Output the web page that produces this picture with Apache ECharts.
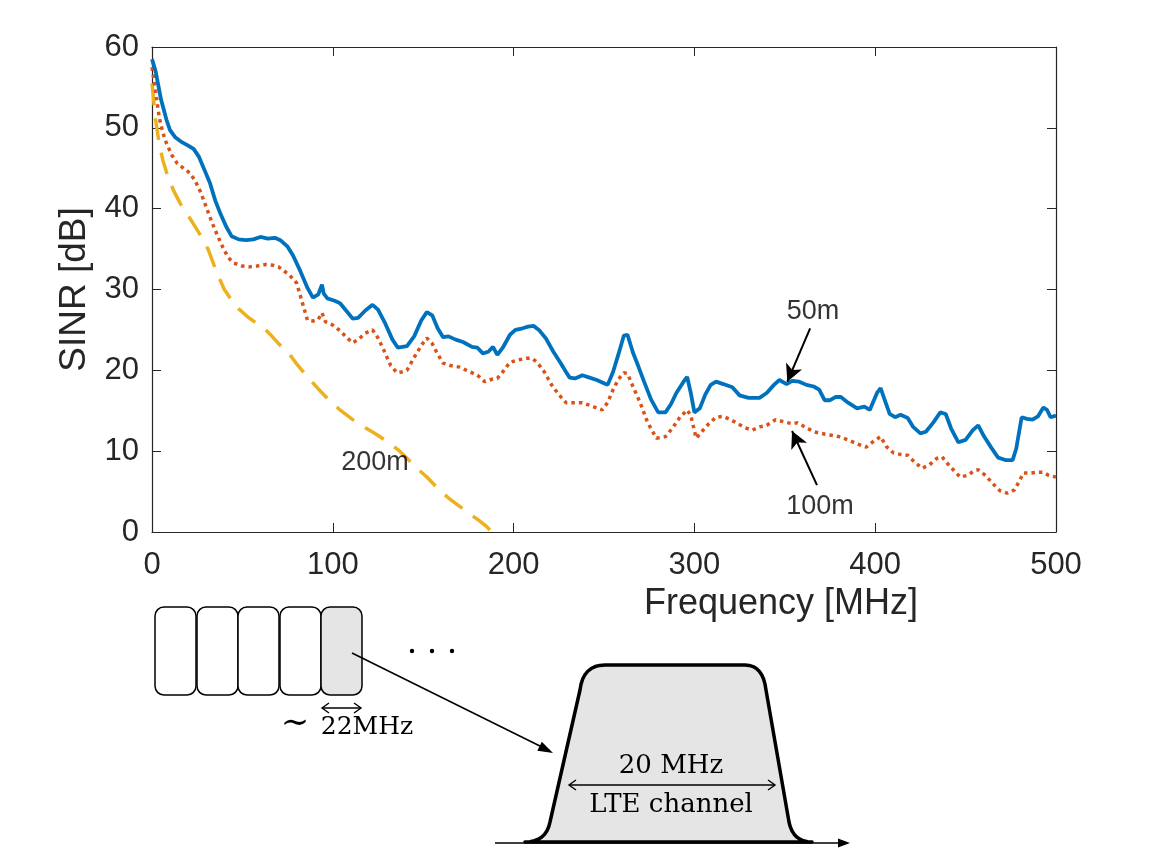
<!DOCTYPE html>
<html>
<head>
<meta charset="utf-8">
<title>SINR vs frequency</title>
<script src="https://cdn.jsdelivr.net/npm/echarts@6/dist/echarts.min.js"></script>
<style>
  html, body { margin: 0; padding: 0; background: #fff; }
  #chart { width: 1167px; height: 850px; }
</style>
</head>
<body>
<div id="chart"></div>
<script>
// ---- data ----
var xTicks = [0, 100, 200, 300, 400, 500]
var yTicks = [0, 10, 20, 30, 40, 50, 60]

// 50m (blue, solid)
var freq50 = [0, 2, 5, 8, 10, 13, 16, 20, 23, 26, 29, 32, 35, 38, 41, 44, 48, 52, 56, 60, 64, 68, 71, 75, 78, 82, 86, 89, 92, 94, 95, 97, 101, 104, 107, 111, 114, 118, 122, 125, 129, 133, 136, 141, 145, 149, 152, 155, 158, 161, 164, 168, 172, 177, 180, 183, 186, 188.6, 191, 194, 198, 201, 205, 208, 211, 214, 218, 222, 226, 229, 231, 234, 238, 242, 246, 250, 252, 255, 258, 261, 263, 266, 269, 272, 276, 280, 284, 287, 290, 294, 296, 298, 300, 303, 306, 309, 312, 316, 321, 325, 330, 336, 340, 344, 347, 351, 354, 358, 362, 366, 369, 372, 375, 378, 381, 385, 390, 394, 397, 401, 403, 405, 408, 411, 414, 418, 421, 425, 428, 432, 436, 439, 442, 446, 450, 454, 457, 460, 464, 468, 472, 476, 478, 481, 484, 487, 490, 493, 495, 497, 500]
var sinr50 = [58.5, 57, 53.5, 51, 49.7, 48.8, 48.3, 47.8, 47.4, 46.4, 44.8, 43.2, 41, 39.3, 37.8, 36.6, 36.2, 36.1, 36.2, 36.5, 36.3, 36.4, 36.1, 35.3, 34.2, 32.3, 30.2, 29, 29.4, 30.6, 29.5, 28.9, 28.6, 28.3, 27.5, 26.4, 26.5, 27.4, 28.1, 27.5, 25.8, 23.8, 22.8, 23, 24.2, 26.2, 27.2, 26.8, 25.2, 24.1, 24.2, 23.8, 23.5, 22.9, 22.8, 22.1, 22.3, 22.9, 21.9, 22.8, 24.4, 25, 25.2, 25.4, 25.5, 25, 23.9, 22.3, 20.9, 19.8, 19.1, 19, 19.4, 19.1, 18.8, 18.4, 18.2, 19.8, 22, 24.3, 24.4, 22.2, 20.5, 18.7, 16.4, 14.8, 14.8, 15.8, 17.2, 18.6, 19.2, 17.2, 14.8, 15.3, 17, 18.2, 18.6, 18.3, 17.9, 16.9, 16.6, 16.6, 17.2, 18.2, 18.8, 18.3, 18.7, 18.6, 18.2, 18, 17.6, 16.3, 16.3, 16.7, 16.7, 16, 15.3, 15.5, 15.1, 17.2, 17.8, 16.5, 14.6, 14.2, 14.5, 14.1, 13, 12.2, 12.4, 13.5, 14.8, 14.6, 12.8, 11.1, 11.4, 12.6, 13.2, 11.9, 10.5, 9.2, 8.9, 8.9, 10.3, 14.2, 14, 13.9, 14.3, 15.4, 15.1, 14.2, 14.4]

// 100m (orange, dotted)
var freq100 = [0, 2, 4, 6, 8, 11, 14, 18, 21, 24, 27, 30, 33, 36, 39, 42, 45, 50, 54, 58, 63, 67, 70, 73, 76, 80, 83, 86, 89, 92, 94, 96, 100, 104, 108, 111, 114, 118, 122, 125, 128, 132, 135.5, 138, 141, 145, 149, 152, 155, 158, 161, 165, 170, 176, 180, 184, 188, 191, 194, 198, 203, 207, 210, 213, 217, 221, 225, 229, 234, 238, 243, 249, 252, 255, 258, 261, 263, 266, 270, 274, 279, 284, 288, 292, 296, 298, 301, 304, 308, 312, 316, 320, 324, 328, 332, 336, 340, 345, 350, 354, 357, 362, 366, 370, 375, 380, 385, 390, 395, 399, 403, 406, 410, 414, 418, 422, 426, 430, 434, 437, 441, 447, 451, 455, 457, 461, 465, 469, 473, 477, 480, 482, 486, 490, 493, 496, 500]
var sinr100 = [57.5, 54.5, 51.3, 49.4, 48.1, 46.6, 45.6, 44.9, 44.4, 43.4, 42, 40.2, 38.4, 36.8, 35.3, 34, 33.3, 32.9, 32.8, 32.9, 33.1, 33, 32.8, 32.3, 31.8, 30.8, 28.5, 26.2, 26.1, 26.3, 27.1, 26, 25.6, 24.9, 24, 23.4, 23.8, 24.6, 25, 24, 22.6, 20.6, 19.7, 19.8, 20, 21.6, 23.1, 24, 23.3, 22, 20.9, 20.6, 20.4, 19.8, 19.4, 18.6, 18.9, 19, 19.8, 21, 21.3, 21.5, 21.5, 21, 19.8, 18.2, 17, 16, 16, 16, 15.6, 15.1, 16, 17.6, 18.9, 19.7, 19.6, 18, 16, 13.6, 11.6, 11.8, 12.9, 14.2, 15.1, 14.4, 11.6, 12.4, 13.4, 14.2, 14.3, 13.9, 13.4, 12.9, 12.6, 13, 13.2, 13.9, 13.6, 13.4, 13.5, 12.9, 12.4, 12.2, 12, 11.8, 11.4, 10.9, 10.5, 11.2, 11.8, 10.6, 9.8, 9.6, 9.5, 8.6, 7.9, 8.3, 9.1, 9.3, 8.2, 6.8, 7, 7.6, 7.7, 7, 6, 5.1, 4.8, 5.2, 6.4, 7.3, 7.3, 7.4, 7.4, 7, 6.8]

// 200m (yellow, dashed)
var freq200 = [0, 2, 4, 6, 9, 12, 16, 21, 26, 31, 36, 40, 44, 48, 53, 58, 62, 66, 70, 75, 80, 86, 92, 98, 104, 111, 118, 124, 130, 136, 142, 148, 152, 158, 164, 170, 176, 181, 185, 188]
var sinr200 = [55.5, 51, 48, 46, 43.8, 42.2, 40.5, 38.8, 37, 35, 32, 30, 28.7, 27.6, 26.6, 25.8, 25.2, 24.3, 23.3, 22.3, 20.8, 19.2, 17.7, 16.3, 15.1, 13.9, 12.9, 12.1, 11.2, 10.2, 8.9, 7.6, 6.8, 5.4, 4.2, 3.2, 2.2, 1.4, 0.7, 0]

// text labels placed in data space [freq, sinr, text]
var curveLabels = [[365.6, 27.3, '50m'], [369.5, 3.1, '100m'], [123.3, 8.6, '200m']]
// arrows [from, to] in data space
var arrows = [
    [[364, 25.2], [351.4, 18.6]],
    [[367.8, 5.8], [354, 12.5]]
]

function zip(xs, ys) {
    return xs.map(function (x, i) { return [x, ys[i]] })
}

var axisColor = '#262626'
var sans = 'Liberation Sans, Arial, Helvetica, sans-serif'
var serif = 'DejaVu Serif, serif'

// ---- bottom sketch helpers (plain pixel drawing) ----
function quad(p0, c, p1, n) {
    var pts = []
    for (var i = 1; i <= n; i++) {
        var t = i / n
        pts.push([
            (1 - t) * (1 - t) * p0[0] + 2 * (1 - t) * t * c[0] + t * t * p1[0],
            (1 - t) * (1 - t) * p0[1] + 2 * (1 - t) * t * c[1] + t * t * p1[1]
        ])
    }
    return pts
}

function head(tip, from, len, wid) {
    var dx = tip[0] - from[0], dy = tip[1] - from[1]
    var d = Math.sqrt(dx * dx + dy * dy)
    var ux = dx / d, uy = dy / d
    var bx = tip[0] - ux * len, by = tip[1] - uy * len
    return [[bx - uy * wid, by + ux * wid], tip, [bx + uy * wid, by - ux * wid]]
}

function openArrow(a, b, z) {
    // double-headed thin arrow with open chevrons
    return [
        { type: 'line', shape: { x1: a[0], y1: a[1], x2: b[0], y2: b[1] }, style: { stroke: '#000', lineWidth: 1.4 }, z: z },
        { type: 'polyline', shape: { points: head(a, b, 7, 5) }, style: { stroke: '#000', lineWidth: 1.4, fill: null }, z: z },
        { type: 'polyline', shape: { points: head(b, a, 7, 5) }, style: { stroke: '#000', lineWidth: 1.4, fill: null }, z: z }
    ]
}

// trapezoid-like LTE channel outline
var bump = [[525, 842]]
bump = bump.concat(quad([525, 842], [546, 842], [550, 822], 8))
bump.push([580, 690])
bump = bump.concat(quad([580, 690], [583, 665], [605, 665], 8))
bump.push([745, 665])
bump = bump.concat(quad([745, 665], [763, 665], [766, 690], 8))
bump.push([789, 822])
bump = bump.concat(quad([789, 822], [793, 842], [812, 842], 8))

var sketch = []
var boxX = [155, 197, 238, 280, 321]
boxX.forEach(function (x, i) {
    sketch.push({
        type: 'rect',
        shape: { x: x, y: 607, width: 41, height: 88, r: 9 },
        style: { fill: i === 4 ? '#e5e5e5' : '#fff', stroke: '#000', lineWidth: 1.5 }
    })
})
sketch = sketch.concat(openArrow([322, 708], [361, 708], 5))
sketch.push({ type: 'text', x: 295, y: 724, style: { text: '\u223C', font: '34px ' + serif, fill: '#000', textAlign: 'center', textVerticalAlign: 'middle' } })
sketch.push({ type: 'text', x: 367, y: 727, style: { text: '22MHz', font: '25px ' + serif, fill: '#000', textAlign: 'center', textVerticalAlign: 'middle' } })
;[412, 432, 452].forEach(function (x) {
    sketch.push({ type: 'circle', shape: { cx: x, cy: 651, r: 2.2 }, style: { fill: '#000' } })
})
// pointer from shaded box to channel shape
sketch.push({ type: 'line', shape: { x1: 352, y1: 653, x2: 550, y2: 751 }, style: { stroke: '#000', lineWidth: 1.6 } })
sketch.push({ type: 'polygon', shape: { points: head([553, 753], [352, 653], 15, 5) }, style: { fill: '#000' } })
// baseline axis
sketch.push({ type: 'line', shape: { x1: 495, y1: 843, x2: 842, y2: 843 }, style: { stroke: '#000', lineWidth: 1.6 } })
sketch.push({ type: 'polygon', shape: { points: head([850, 843], [495, 843], 12, 4.5) }, style: { fill: '#000' } })
sketch.push({ type: 'polygon', shape: { points: bump }, style: { fill: '#e5e5e5', stroke: '#000', lineWidth: 3.5, lineJoin: 'round' }, z: 2 })
sketch = sketch.concat(openArrow([569, 785], [775, 785], 3))
sketch.push({ type: 'text', x: 671, y: 766, z: 3, style: { text: '20 MHz', font: '26px ' + serif, fill: '#000', textAlign: 'center', textVerticalAlign: 'middle' } })
sketch.push({ type: 'text', x: 671, y: 805, z: 3, style: { text: 'LTE channel', font: '26px ' + serif, fill: '#000', textAlign: 'center', textVerticalAlign: 'middle' } })

var chart = echarts.init(document.getElementById('chart'), null, { renderer: 'canvas' })

var boxAxisX = {
    min: 0, max: 500, interval: 100,
    axisLine: { show: true, onZero: false, lineStyle: { color: axisColor, width: 1.2 } },
    axisTick: { show: true, inside: true, length: 9, lineStyle: { color: axisColor } },
    splitLine: { show: false }
}
var boxAxisY = {
    min: 0, max: 60, interval: 10,
    axisLine: { show: true, onZero: false, lineStyle: { color: axisColor, width: 1.2 } },
    axisTick: { show: true, inside: true, length: 9, lineStyle: { color: axisColor } },
    splitLine: { show: false }
}

var option = {
    animation: false,
    backgroundColor: '#fff',
    grid: { left: 152, right: 111, top: 47, bottom: 318, containLabel: false },
    xAxis: [
        Object.assign({}, boxAxisX, {
            type: 'value', position: 'bottom',
            // the name sits right of the plot centre in the original
            name: 'Frequency [MHz]', nameLocation: 'middle', nameGap: 49,
            nameTextStyle: { fontFamily: sans, fontSize: 36, color: axisColor, padding: [0, 0, 0, 354] },
            axisLabel: {
                margin: 18, fontFamily: sans, fontSize: 31, color: axisColor,
                customValues: xTicks
            }
        }),
        Object.assign({}, boxAxisX, { type: 'value', position: 'top', axisLabel: { show: false } })
    ],
    yAxis: [
        Object.assign({}, boxAxisY, {
            type: 'value', position: 'left',
            name: 'SINR [dB]', nameLocation: 'middle', nameGap: 48, nameRotate: 90,
            nameTextStyle: { fontFamily: sans, fontSize: 37, color: axisColor },
            axisLabel: {
                margin: 13, fontFamily: sans, fontSize: 31, color: axisColor,
                customValues: yTicks
            }
        }),
        Object.assign({}, boxAxisY, { type: 'value', position: 'right', axisLabel: { show: false } })
    ],
    series: [
        {
            name: '200m', type: 'line', data: zip(freq200, sinr200),
            showSymbol: false, symbol: 'none', clip: true, z: 2,
            lineStyle: { color: '#EDB120', width: 3.5, type: [22, 13] }
        },
        {
            name: '100m', type: 'line', data: zip(freq100, sinr100),
            showSymbol: false, symbol: 'none', clip: true, z: 3,
            lineStyle: { color: '#D95319', width: 3.5, type: [3.5, 4] }
        },
        {
            name: '50m', type: 'line', data: zip(freq50, sinr50),
            showSymbol: false, symbol: 'none', clip: true, z: 4,
            lineStyle: { color: '#0072BD', width: 3.8 }
        },
        {
            // annotation arrows
            type: 'line', data: [], z: 5,
            markLine: {
                silent: true, animation: false,
                symbol: ['none', 'arrow'], symbolSize: [13, 17],
                label: { show: false },
                lineStyle: { color: '#000', width: 2, type: 'solid' },
                data: arrows.map(function (a) { return [{ coord: a[0] }, { coord: a[1] }] })
            }
        },
        {
            // curve names
            type: 'scatter', symbolSize: 0, z: 6, silent: true,
            data: curveLabels,
            label: {
                show: true, position: 'inside', color: '#000',
                fontFamily: sans, fontSize: 27,
                formatter: function (p) { return p.value[2] }
            }
        }
    ],
    graphic: sketch
}

chart.setOption(option)
</script>
</body>
</html>
